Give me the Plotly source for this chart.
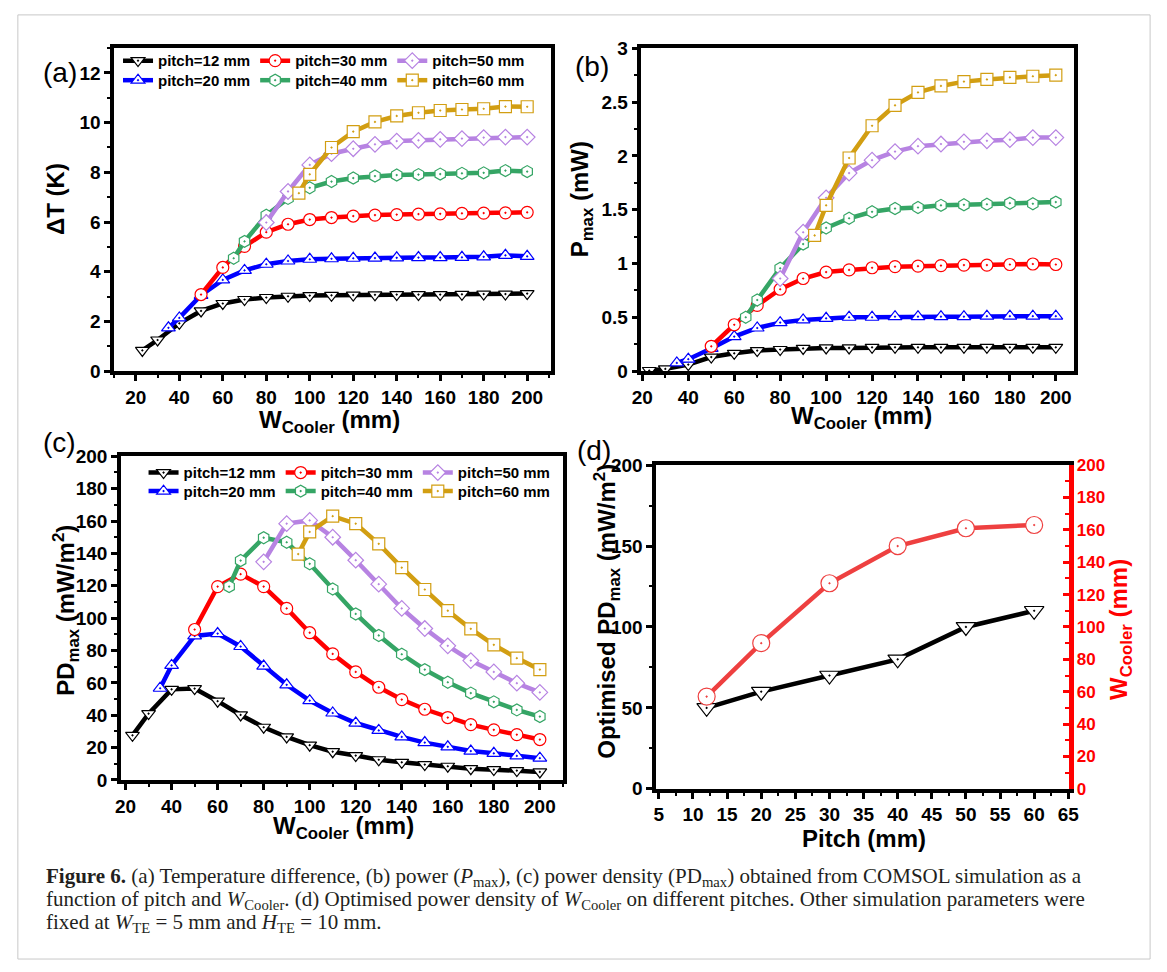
import plotly.graph_objects as go

W, H = 1167, 972

# ---------------- data ----------------
x_p12 = [23, 30, 40, 50, 60, 70, 80, 90, 100, 110, 120, 130, 140, 150, 160, 170, 180, 190, 200]
x_p20 = [35, 40, 50, 60, 70, 80, 90, 100, 110, 120, 130, 140, 150, 160, 170, 180, 190, 200]
x_p30 = [50, 60, 70, 80, 90, 100, 110, 120, 130, 140, 150, 160, 170, 180, 190, 200]
x_p40 = [65, 70, 80, 90, 100, 110, 120, 130, 140, 150, 160, 170, 180, 190, 200]
x_p50 = [80, 90, 100, 110, 120, 130, 140, 150, 160, 170, 180, 190, 200]
x_p60 = [95, 100, 110, 120, 130, 140, 150, 160, 170, 180, 190, 200]

dT_p12 = [0.83, 1.25, 1.92, 2.42, 2.72, 2.88, 2.96, 3.01, 3.04, 3.05, 3.06, 3.07, 3.08, 3.08, 3.08, 3.09, 3.10, 3.10, 3.12]
dT_p20 = [1.74, 2.14, 3.05, 3.67, 4.05, 4.30, 4.43, 4.50, 4.52, 4.54, 4.55, 4.56, 4.57, 4.57, 4.58, 4.60, 4.66, 4.62]
dT_p30 = [3.08, 4.17, 5.02, 5.59, 5.91, 6.10, 6.18, 6.24, 6.28, 6.30, 6.32, 6.33, 6.35, 6.36, 6.37, 6.39]
dT_p40 = [4.54, 5.22, 6.27, 6.95, 7.38, 7.63, 7.77, 7.85, 7.89, 7.91, 7.93, 7.96, 7.98, 8.07, 8.03]
dT_p50 = [5.98, 7.23, 8.30, 8.75, 8.95, 9.13, 9.26, 9.29, 9.33, 9.36, 9.40, 9.42, 9.42]
dT_p60 = [7.16, 7.92, 9.00, 9.64, 10.03, 10.27, 10.40, 10.49, 10.53, 10.56, 10.65, 10.64]

P_p12 = [0.005, 0.02, 0.06, 0.13, 0.165, 0.19, 0.20, 0.21, 0.215, 0.215, 0.22, 0.22, 0.22, 0.22, 0.22, 0.22, 0.22, 0.22, 0.22]
P_p20 = [0.075, 0.11, 0.21, 0.32, 0.40, 0.45, 0.475, 0.49, 0.50, 0.50, 0.505, 0.505, 0.505, 0.505, 0.51, 0.51, 0.51, 0.51]
P_p30 = [0.23, 0.43, 0.61, 0.76, 0.86, 0.92, 0.94, 0.96, 0.97, 0.975, 0.98, 0.985, 0.985, 0.99, 0.995, 0.99]
P_p40 = [0.50, 0.66, 0.955, 1.18, 1.33, 1.42, 1.48, 1.51, 1.52, 1.54, 1.545, 1.55, 1.56, 1.555, 1.57]
P_p50 = [0.86, 1.29, 1.61, 1.84, 1.96, 2.04, 2.09, 2.11, 2.13, 2.14, 2.15, 2.17, 2.17]
P_p60 = [1.26, 1.54, 1.98, 2.28, 2.47, 2.59, 2.65, 2.69, 2.71, 2.73, 2.74, 2.75]

PD_p12 = [27.6, 41.0, 56.0, 56.5, 48.7, 40.2, 32.6, 26.6, 21.5, 17.5, 15.1, 12.5, 10.9, 9.5, 8.5, 7.0, 6.4, 5.8, 5.0]
PD_p20 = [56.7, 70.8, 89.0, 90.5, 82.5, 70.4, 58.8, 49.0, 41.4, 35.2, 30.6, 26.6, 23.1, 20.5, 17.9, 16.5, 14.9, 13.5]
PD_p30 = [93.0, 119.5, 127.2, 119.5, 106.0, 91.0, 77.9, 66.8, 57.3, 49.7, 43.7, 38.6, 34.2, 31.0, 28.0, 25.0]
PD_p40 = [119.5, 135.6, 149.7, 146.9, 133.6, 118.0, 102.6, 89.3, 77.7, 68.2, 60.4, 53.7, 48.3, 43.3, 39.2]
PD_p50 = [134.8, 158.4, 160.4, 150.0, 135.8, 121.0, 106.0, 93.6, 82.9, 73.8, 66.8, 59.8, 54.1]
PD_p60 = [139.6, 153.3, 163.0, 158.4, 145.9, 131.2, 117.7, 104.6, 93.4, 83.5, 75.3, 68.2]

pitch_d = [12, 20, 30, 40, 50, 60]
pd_opt = [50, 60, 70, 80, 100, 110]
w_opt = [57, 90, 127, 150, 161, 163]

series_names = ["pitch=12 mm", "pitch=20 mm", "pitch=30 mm", "pitch=40 mm", "pitch=50 mm", "pitch=60 mm"]
series_colors = ["#000000", "#0000FF", "#FF0000", "#35A565", "#B783E2", "#D29E12"]
series_symbols = ["triangle-down-dot", "triangle-up-dot", "circle-dot", "hexagon-dot", "diamond-dot", "square-dot"]
series_x = [x_p12, x_p20, x_p30, x_p40, x_p50, x_p60]
dT_all = [dT_p12, dT_p20, dT_p30, dT_p40, dT_p50, dT_p60]
P_all = [P_p12, P_p20, P_p30, P_p40, P_p50, P_p60]
PD_all = [PD_p12, PD_p20, PD_p30, PD_p40, PD_p50, PD_p60]


def px(v):
    return v / W


def py(v):
    return 1 - v / H


fig = go.Figure()


def add_series(xs, ys, xa, ya, color, symbol, name, legend=None):
    fig.add_trace(go.Scatter(
        x=xs, y=ys, xaxis=xa, yaxis=ya, mode="lines+markers", name=name,
        line=dict(color=color, width=4.5),
        marker=dict(symbol=symbol, size=12, color="white", line=dict(color=color, width=1.2)),
        showlegend=legend is not None, legend=legend if legend else "legend",
    ))


row_legend_a = ["legend", "legend2", "legend", "legend2", "legend", "legend2"]
row_legend_c = ["legend3", "legend4", "legend3", "legend4", "legend3", "legend4"]

for i in range(6):
    add_series(series_x[i], dT_all[i], "x", "y", series_colors[i], series_symbols[i], series_names[i], row_legend_a[i])
for i in range(6):
    add_series(series_x[i], P_all[i], "x2", "y2", series_colors[i], series_symbols[i], series_names[i], None)
for i in range(6):
    add_series(series_x[i], PD_all[i], "x3", "y3", series_colors[i], series_symbols[i], series_names[i], row_legend_c[i])

fig.add_trace(go.Scatter(
    x=pitch_d, y=pd_opt, xaxis="x4", yaxis="y4", mode="lines+markers", showlegend=False,
    line=dict(color="black", width=4.5),
    marker=dict(symbol="triangle-down-dot", size=17, color="white", line=dict(color="black", width=1.2)),
))
fig.add_trace(go.Scatter(
    x=pitch_d, y=w_opt, xaxis="x4", yaxis="y5", mode="lines+markers", showlegend=False,
    line=dict(color="#EE4040", width=4.5),
    marker=dict(symbol="circle-dot", size=17, color="white", line=dict(color="#EE4040", width=1.2)),
))

tickfont = dict(family="Arial", size=19, color="black", weight="bold")


def ax(rng, dtick, mdtick, domain, anchor, mirror=True, color="black", ticks="outside", **kw):
    d = dict(range=rng, domain=domain, anchor=anchor, dtick=dtick, tick0=0,
             showline=True, linecolor=color, linewidth=3.5, mirror=mirror,
             ticks=ticks, ticklen=6, tickwidth=2.5, tickcolor=color,
             minor=dict(ticks=ticks, ticklen=3.5, tickwidth=2, dtick=mdtick, tickcolor=color),
             showgrid=False, zeroline=False,
             tickfont=dict(tickfont, color=color))
    d.update(kw)
    return d


# panel boxes (pixels): left, right, top, bottom
A = (106, 551, 39, 369)
B = (643, 1083, 39, 369)
C = (113, 563, 456, 787)
D = (658, 1078, 465, 796)


def xd(b):
    return [px(b[0]), px(b[1])]


def yd(b):
    return [py(b[3]), py(b[2])]


legend_common = dict(orientation="h", xanchor="left", yanchor="middle", bgcolor="rgba(0,0,0,0)",
                     borderwidth=0, traceorder="normal", itemclick=False,
                     font=dict(family="Arial", size=15, color="black", weight="bold"))

fig.update_layout(
    width=W, height=H, margin=dict(l=0, r=0, t=0, b=0),
    paper_bgcolor="white", plot_bgcolor="white",
    xaxis=ax([10, 211], 20, 10, xd(A), "y"),
    yaxis=ax([0, 13], 2, 1, yd(A), "x"),
    xaxis2=ax([19.6, 207.7], 20, 10, xd(B), "y2"),
    yaxis2=ax([0, 3.001], 0.5, 0.25, yd(B), "x2"),
    xaxis3=ax([18, 210], 20, 10, xd(C), "y3"),
    yaxis3=ax([0, 200.1], 20, 10, yd(C), "x3"),
    xaxis4=ax([4.6, 65.05], 5, 2.5, xd(D), "y4"),
    yaxis4=ax([0, 200.1], 50, 25, yd(D), "x4", mirror=False),
    yaxis5=ax([0, 200.1], 20, 10, yd(D), "x4", mirror=False, color="#FF0000", ticks="inside",
              overlaying="y4", side="right", linewidth=4.5,
              tickfont=dict(family="Arial", size=17, color="#FF0000", weight="bold")),
    legend=dict(legend_common, x=px(110), y=py(52)),
    legend2=dict(legend_common, x=px(110), y=py(72)),
    legend3=dict(legend_common, x=px(136), y=py(473)),
    legend4=dict(legend_common, x=px(136), y=py(492)),
)

title_font = dict(family="Arial", size=24, color="black", weight="bold")
label_font = dict(family="Arial", size=28, color="black")
annots = [
    # panel labels
    dict(text="(a)", x=px(51), y=py(64), font=label_font),
    dict(text="(b)", x=px(593), y=py(58), font=label_font),
    dict(text="(c)", x=px(50), y=py(442), font=label_font),
    dict(text="(d)", x=px(595), y=py(450), font=label_font),
    # axis titles
    dict(text="ΔT (K)", x=px(47), y=py(193), textangle=-90, font=title_font),
    dict(text="W<sub>Cooler</sub> (mm)", x=px(325), y=py(421), font=title_font),
    dict(text="P<sub>max</sub> (mW)", x=px(582), y=py(194), textangle=-90, font=title_font),
    dict(text="W<sub>Cooler</sub> (mm)", x=px(867), y=py(417), font=title_font),
    dict(text="PD<sub>max</sub> (mW/m<sup>2</sup>)", x=px(57), y=py(613), textangle=-90, font=title_font),
    dict(text="W<sub>Cooler</sub> (mm)", x=px(340), y=py(836), font=title_font),
    dict(text="Optimised PD<sub>max</sub> (mW/m<sup>2</sup>)", x=px(608), y=py(615), textangle=-90,
         font=title_font),
    dict(text="Pitch (mm)", x=px(870), y=py(847), font=title_font),
    dict(text="W<sub>Cooler</sub> (mm)", x=px(1131), y=py(633), textangle=-90,
         font=dict(title_font, color="#FF0000")),
]
for a in annots:
    a.update(xref="paper", yref="paper", showarrow=False, xanchor="center", yanchor="middle")
    fig.add_annotation(**a)

caption_lines = [
    "<b>Figure 6.</b> (a) Temperature difference, (b) power (<i>P</i><sub>max</sub>), "
    "(c) power density (PD<sub>max</sub>) obtained from COMSOL simulation as a",
    "function of pitch and <i>W</i><sub>Cooler</sub>. (d) Optimised power density of "
    "<i>W</i><sub>Cooler</sub> on different pitches. Other simulation parameters were",
    "fixed at <i>W</i><sub>TE</sub> = 5 mm and <i>H</i><sub>TE</sub> = 10 mm.",
]
caption_y = [886, 910, 933]
for t, yy in zip(caption_lines, caption_y):
    fig.add_annotation(text=t, xref="paper", yref="paper", x=px(35), y=py(yy),
                       xanchor="left", yanchor="middle", align="left", showarrow=False,
                       font=dict(family="Liberation Serif", size=21, color="#231F20"))

fig.add_shape(type="rect", xref="paper", yref="paper", x0=px(8), x1=px(1161), y0=py(970), y1=py(5),
              line=dict(color="#C8C8C8", width=1), fillcolor="rgba(0,0,0,0)", layer="below")

fig.write_html("out.html", config={"displayModeBar": False},
               post_script="document.body.style.margin='0px';document.body.style.overflow='hidden';")
